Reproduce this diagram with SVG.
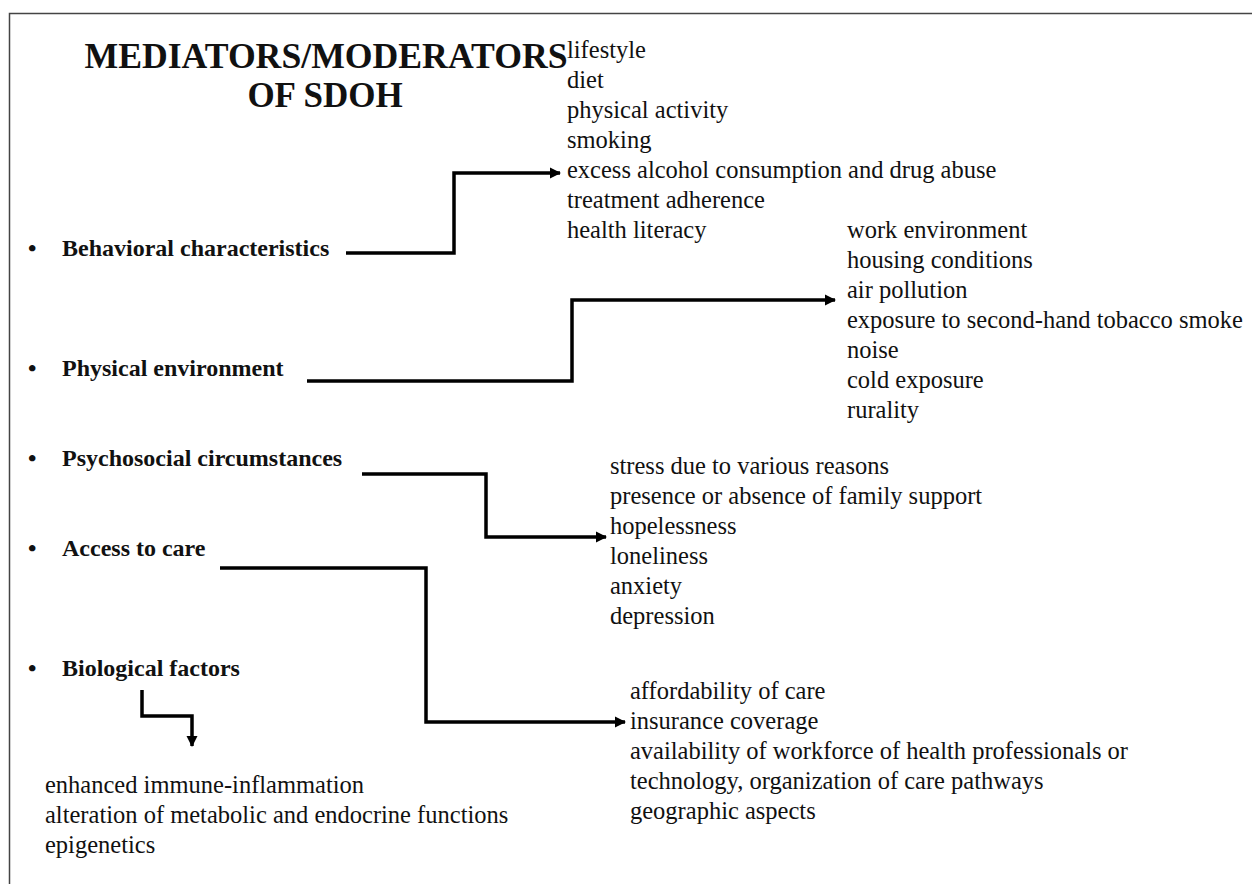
<svg xmlns="http://www.w3.org/2000/svg" width="1252" height="884" viewBox="0 0 1252 884">
<style>
.t{font-family:"Liberation Serif","Times New Roman",serif;fill:#111;}
.title{font-size:35px;font-weight:bold;text-anchor:middle;}
.lbl{font-size:24px;font-weight:bold;}
.it{font-size:24.5px;}
.con{fill:none;stroke:#000;stroke-width:3.5;stroke-linejoin:miter;}
</style>
<defs>
<marker id="ah" markerUnits="userSpaceOnUse" markerWidth="12" markerHeight="12" viewBox="0 0 12 12" refX="10" refY="6" orient="auto">
<path d="M0,0.5 L11,6 L0,11.5 Z" fill="#000"/>
</marker>
</defs>
<rect width="1252" height="884" fill="#fff"/>
<path d="M9.5,884 V13.5 H1252" fill="none" stroke="#444" stroke-width="1.5"/>
<g id="title" class="t title">
<text x="326" y="68" textLength="483" lengthAdjust="spacingAndGlyphs">MEDIATORS/MODERATORS</text>
<text x="325" y="107">OF SDOH</text>
</g>
<g id="behavioral" class="t lbl">
<text x="28" y="256">•</text>
<text x="62" y="256">Behavioral characteristics</text>
</g>
<g id="physical" class="t lbl">
<text x="28" y="376">•</text>
<text x="62" y="376">Physical environment</text>
</g>
<g id="psychosocial" class="t lbl">
<text x="28" y="466">•</text>
<text x="62" y="466">Psychosocial circumstances</text>
</g>
<g id="access" class="t lbl">
<text x="28" y="556">•</text>
<text x="62" y="556">Access to care</text>
</g>
<g id="biological" class="t lbl">
<text x="28" y="676">•</text>
<text x="62" y="676">Biological factors</text>
</g>
<g id="behavioral-list" class="t it">
<text x="567" y="58">lifestyle</text>
<text x="567" y="88">diet</text>
<text x="567" y="118">physical activity</text>
<text x="567" y="148">smoking</text>
<text x="567" y="178">excess alcohol consumption and drug abuse</text>
<text x="567" y="208">treatment adherence</text>
<text x="567" y="238">health literacy</text>
</g>
<g id="physical-list" class="t it">
<text x="847" y="238">work environment</text>
<text x="847" y="268">housing conditions</text>
<text x="847" y="298">air pollution</text>
<text x="847" y="328">exposure to second-hand tobacco smoke</text>
<text x="847" y="358">noise</text>
<text x="847" y="388">cold exposure</text>
<text x="847" y="418">rurality</text>
</g>
<g id="psychosocial-list" class="t it">
<text x="610" y="474">stress due to various reasons</text>
<text x="610" y="504">presence or absence of family support</text>
<text x="610" y="534">hopelessness</text>
<text x="610" y="564">loneliness</text>
<text x="610" y="594">anxiety</text>
<text x="610" y="624">depression</text>
</g>
<g id="access-list" class="t it">
<text x="630" y="699">affordability of care</text>
<text x="630" y="729">insurance coverage</text>
<text x="630" y="759">availability of workforce of health professionals or</text>
<text x="630" y="789">technology, organization of care pathways</text>
<text x="630" y="819">geographic aspects</text>
</g>
<g id="biological-list" class="t it">
<text x="45" y="793">enhanced immune-inflammation</text>
<text x="45" y="823">alteration of metabolic and endocrine functions</text>
<text x="45" y="853">epigenetics</text>
</g>
<g id="connectors">
<path class="con" d="M346,253 H454 V173 H560" marker-end="url(#ah)"/>
<path class="con" d="M307,381 H572 V300 H835" marker-end="url(#ah)"/>
<path class="con" d="M362,474 H486 V537 H606" marker-end="url(#ah)"/>
<path class="con" d="M220,568 H426 V722 H625" marker-end="url(#ah)"/>
<path class="con" d="M142,690 V716 H192 V746" marker-end="url(#ah)"/>
</g>
</svg>
